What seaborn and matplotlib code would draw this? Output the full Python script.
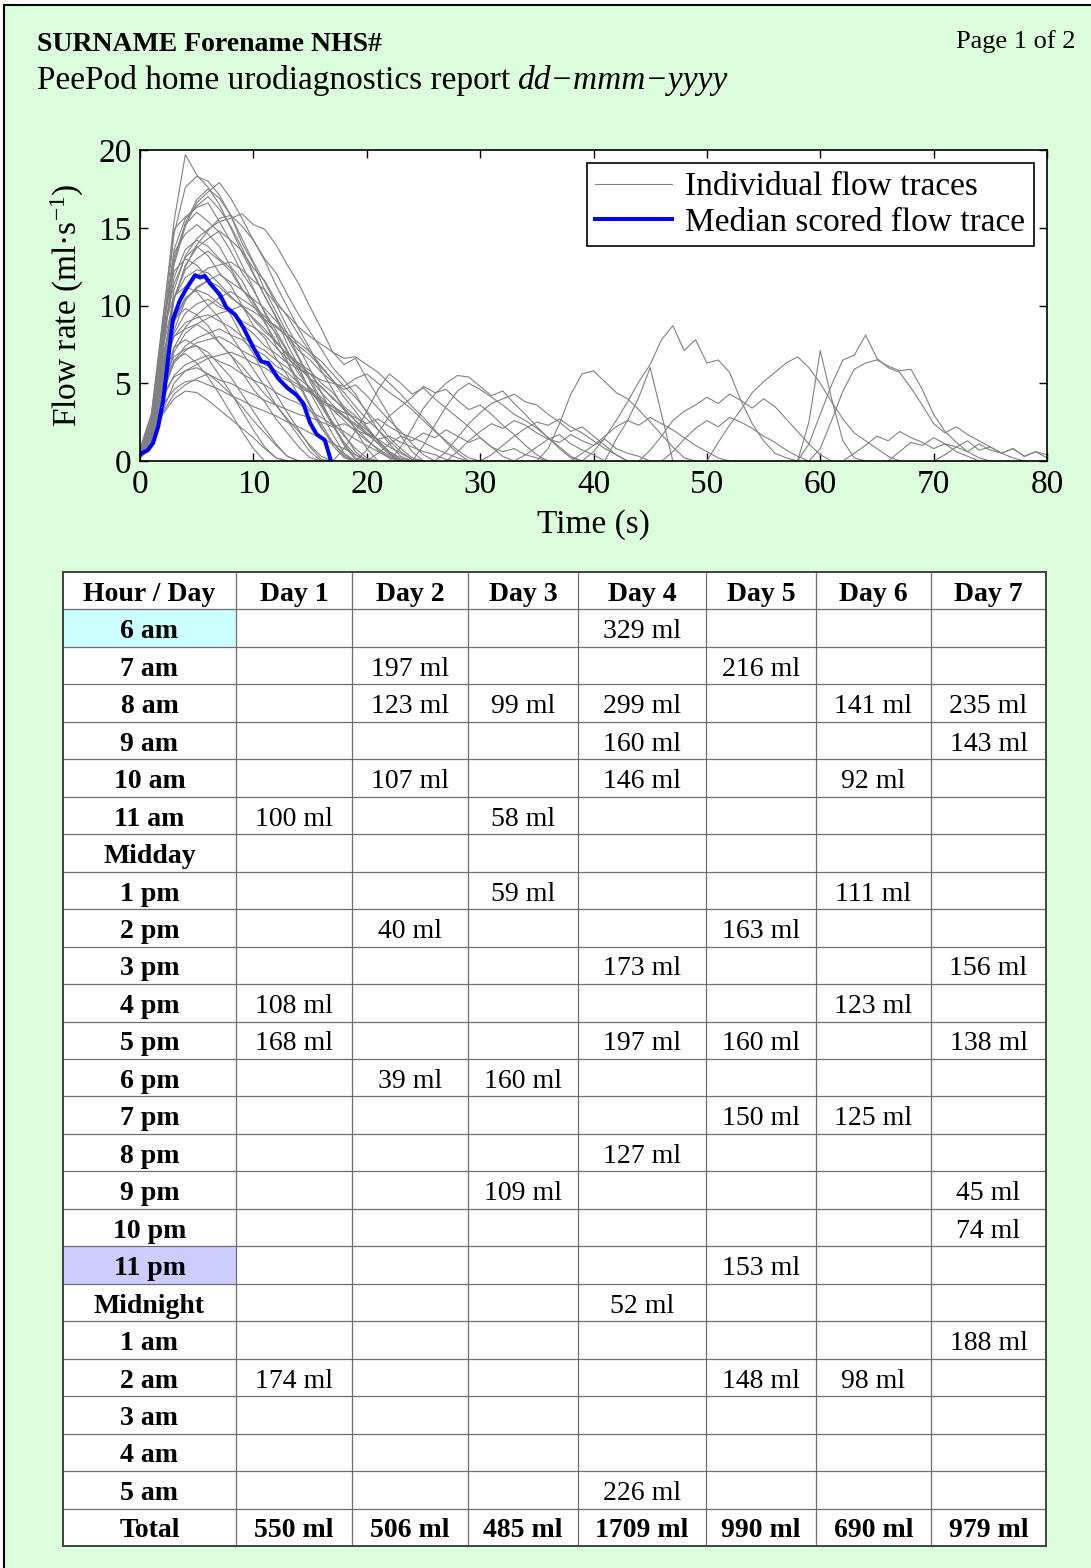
# PeePod report page - flow traces plus voiding diary table
import numpy as np
import pandas as pd
import matplotlib
matplotlib.use('Agg')
import matplotlib.pyplot as plt
import seaborn as sns
from matplotlib.colors import ListedColormap
from matplotlib.lines import Line2D
from matplotlib.patches import Rectangle

# ---------------------------------------------------------------- data
# individual flow traces (ml/s), one sample per second, starting at t = 0 s
tall_traces = [
    [0.6, 2.4, 8.9, 15.4, 19.7, 18.4, 17.6, 16.5, 15.0, 13.4, 12.0, 10.6, 9.3, 7.9, 6.6, 5.1, 3.7, 2.4, 1.1, 0.2, 0],
    [0.4, 2.0, 8.2, 14.6, 17.6, 18.3, 18.0, 17.1, 15.8, 14.0, 12.7, 11.0, 9.6, 8.2, 6.7, 5.3, 3.9, 2.3, 1.0, 0.1, 0],
    [0.3, 1.5, 6.8, 12.6, 15.1, 16.6, 17.3, 17.9, 16.9, 15.6, 14.2, 12.9, 11.3, 9.9, 8.5, 7.2, 5.8, 4.6, 3.3, 2.0, 0.8, 0],
    [0.5, 2.2, 7.8, 13.6, 15.6, 16.4, 17.0, 16.2, 15.1, 13.7, 12.1, 10.6, 9.2, 7.5, 6.1, 4.4, 3.1, 1.7, 0.5, 0],
    [0.3, 1.2, 5.6, 11.0, 13.2, 14.3, 14.9, 15.4, 15.6, 15.9, 15.2, 14.9, 13.9, 12.6, 11.4, 9.9, 8.5, 7.0, 6.2, 6.6, 5.3, 4.1, 2.9, 1.6, 0.6, 0],
    [0.8, 3.0, 9.1, 14.9, 15.7, 16.3, 16.6, 15.4, 14.1, 12.6, 11.1, 9.5, 8.1, 6.4, 5.1, 3.6, 2.2, 1.0, 0.2, 0],
    [0.2, 1.0, 5.0, 10.4, 12.5, 13.9, 14.8, 15.6, 15.8, 15.1, 14.2, 13.0, 12.1, 10.7, 9.4, 8.3, 7.2, 6.0, 5.2, 4.3, 3.1, 2.0, 1.1, 0.3, 0],
    [0.5, 2.4, 8.1, 13.4, 14.6, 15.2, 14.6, 13.8, 12.5, 11.6, 10.2, 9.0, 7.4, 6.3, 4.9, 3.5, 2.4, 1.2, 0.3, 0],
    [0.4, 1.8, 7.2, 12.8, 15.3, 16.8, 17.5, 16.9, 15.8, 14.3, 12.8, 11.5, 10.1, 8.6, 7.3, 5.9, 4.4, 3.0, 1.7, 0.6, 0],
    [0.6, 2.6, 8.6, 13.1, 15.2, 16.0, 15.4, 14.7, 13.5, 12.1, 11.0, 9.6, 8.4, 7.1, 5.8, 4.6, 3.5, 2.3, 1.2, 0.4, 0],
]
mid_traces = [
    [0.4, 2.1, 7.5, 11.8, 13.6, 14.2, 13.8, 13.0, 12.4, 11.1, 10.0, 8.9, 7.7, 6.8, 5.6, 4.7, 3.6, 2.5, 1.6, 0.8, 0.2, 0],
    [0.3, 1.6, 6.4, 10.5, 12.3, 13.0, 13.5, 12.9, 12.2, 11.0, 10.3, 9.1, 8.2, 7.0, 6.1, 5.3, 4.4, 3.6, 2.9, 2.1, 1.4, 0.7, 0.2, 0],
    [0.6, 2.8, 8.9, 12.2, 13.0, 12.6, 11.8, 10.5, 9.4, 8.0, 6.9, 5.5, 4.3, 3.1, 2.0, 0.9, 0.1, 0],
    [0.4, 2.0, 7.2, 10.5, 11.8, 12.3, 12.1, 11.4, 10.6, 9.9, 9.2, 8.5, 7.6, 6.9, 6.3, 5.8, 5.0, 4.4, 3.5, 2.9, 2.1, 1.3, 0.5, 0],
    [0.2, 1.1, 4.8, 8.4, 10.3, 11.2, 11.6, 12.0, 11.5, 11.0, 10.4, 9.8, 9.0, 8.2, 7.6, 7.0, 6.4, 5.6, 4.8, 4.1, 3.2, 2.4, 1.5, 0.8, 0.2, 0],
    [0.7, 3.0, 8.4, 10.6, 11.2, 10.9, 10.0, 9.2, 8.1, 7.0, 5.9, 4.8, 3.6, 2.6, 1.6, 0.6, 0],
    [0.3, 1.4, 5.6, 8.2, 9.5, 10.1, 10.4, 9.9, 9.6, 9.0, 8.6, 8.1, 7.3, 6.6, 6.0, 5.3, 4.8, 4.0, 3.4, 2.6, 2.0, 1.3, 0.6, 0.1, 0],
    [0.2, 1.0, 4.3, 7.0, 8.2, 8.8, 9.2, 9.5, 9.7, 10.0, 9.6, 9.1, 8.7, 8.0, 7.4, 6.8, 6.0, 5.2, 4.4, 3.5, 2.7, 2.0, 1.3, 0.6, 0.1, 0],
    [0.3, 1.3, 5.5, 9.3, 11.0, 11.9, 12.4, 12.6, 12.8, 12.3, 11.6, 11.0, 10.1, 9.4, 8.6, 8.0, 7.5, 7.0, 6.6, 6.7, 6.2, 5.7, 5.0, 4.3, 3.5, 2.8, 2.0, 1.2, 0.5, 0],
    [0.4, 1.7, 6.0, 9.1, 10.5, 11.0, 10.7, 10.1, 9.6, 8.8, 8.2, 7.4, 6.9, 6.3, 5.9, 5.6, 5.2, 5.0, 4.8, 5.3, 5.6, 5.0, 4.4, 3.9, 3.3, 2.6, 1.9, 1.3, 0.7, 0.2, 0],
    [0.3, 1.4, 6.1, 10.4, 12.6, 13.7, 14.3, 14.8, 14.2, 13.5, 12.4, 11.6, 10.3, 9.3, 8.1, 7.0, 6.1, 5.2, 4.1, 3.2, 2.2, 1.3, 0.5, 0],
    [0.5, 2.3, 7.9, 11.4, 13.1, 13.8, 13.2, 12.1, 11.3, 10.0, 8.7, 7.9, 6.6, 5.5, 4.2, 3.3, 2.1, 1.2, 0.4, 0],
    [0.3, 1.6, 5.8, 8.9, 10.4, 11.1, 11.6, 11.2, 10.5, 10.0, 9.1, 8.3, 7.7, 6.8, 6.2, 5.6, 4.7, 4.1, 3.3, 2.6, 1.8, 1.1, 0.4, 0],
    [0.2, 1.0, 4.1, 7.3, 8.6, 9.4, 10.0, 10.5, 10.9, 10.4, 9.9, 9.3, 8.6, 8.0, 7.1, 6.5, 5.7, 5.1, 4.6, 4.9, 4.2, 3.4, 2.6, 1.9, 1.1, 0.4, 0],
]
low_traces = [
    [0.4, 1.8, 5.9, 8.0, 8.9, 9.2, 9.4, 9.0, 8.6, 8.0, 7.5, 7.1, 6.5, 6.0, 5.3, 4.7, 4.1, 3.3, 2.6, 1.9, 1.3, 0.8, 0.3, 0],
    [0.5, 2.2, 6.3, 8.0, 8.5, 8.8, 8.3, 7.6, 6.8, 6.1, 5.2, 4.3, 3.6, 2.7, 1.9, 1.0, 0.3, 0],
    [0.2, 1.2, 4.4, 6.3, 7.1, 7.6, 7.8, 8.0, 7.6, 7.1, 6.7, 6.2, 5.8, 5.3, 4.9, 4.4, 3.8, 3.3, 2.9, 2.4, 1.8, 1.4, 0.9, 0.5, 0.1, 0],
    [0.6, 2.4, 5.5, 6.7, 7.2, 7.4, 7.0, 6.2, 5.4, 4.3, 3.2, 2.1, 1.1, 0.3, 0],
    [0.3, 1.3, 4.0, 5.5, 6.2, 6.5, 6.8, 6.4, 6.1, 5.6, 5.2, 4.9, 4.4, 4.0, 3.7, 3.2, 2.8, 2.3, 1.9, 1.4, 1.0, 0.6, 0.2, 0],
    [0.5, 1.9, 4.3, 5.4, 5.8, 6.0, 5.6, 5.0, 4.3, 3.5, 2.6, 1.8, 1.0, 0.3, 0],
    [0.4, 1.5, 3.6, 4.6, 5.1, 5.2, 4.9, 4.6, 4.2, 3.9, 3.5, 3.2, 2.9, 2.5, 2.2, 1.8, 1.5, 1.1, 0.8, 0.4, 0.1, 0],
    [0.3, 1.2, 3.0, 4.0, 4.5, 4.4, 3.9, 3.3, 2.7, 2.1, 1.5, 0.8, 0.2, 0],
    [0.5, 1.8, 4.6, 6.5, 6.9, 6.3, 5.4, 4.3, 3.1, 1.9, 0.8, 0],
    [0.4, 2.0, 5.2, 7.3, 7.8, 7.4, 6.6, 5.5, 4.4, 3.2, 2.0, 0.9, 0.2, 0],
    [0.5, 2.2, 6.9, 9.1, 9.8, 9.4, 8.7, 7.6, 6.8, 5.7, 4.6, 3.8, 2.7, 1.8, 0.9, 0.2, 0],
    [0.3, 1.2, 4.3, 6.4, 7.4, 7.9, 8.2, 8.5, 8.1, 7.8, 7.2, 6.8, 6.1, 5.7, 5.0, 4.5, 3.9, 3.5, 2.8, 2.3, 1.7, 1.2, 0.6, 0.2, 0],
    [0.2, 0.9, 3.2, 5.0, 5.8, 6.2, 6.6, 6.8, 7.0, 6.7, 6.3, 6.0, 5.5, 5.2, 4.7, 4.4, 3.9, 3.5, 3.1, 2.8, 2.4, 2.7, 2.2, 1.8, 1.5, 1.2, 0.8, 0.5, 0.2, 0],
    [0.3, 1.1, 3.1, 4.3, 4.9, 5.3, 5.6, 5.2, 5.0, 4.6, 4.3, 3.9, 3.6, 3.3, 3.0, 2.8, 2.5, 2.2, 2.4, 2.0, 1.7, 1.4, 1.6, 1.2, 0.9, 0.6, 0.4, 0.1, 0],
]
# later voids (start time in s, then one sample per second)
late_starts = [17, 19, 22, 24, 26, 30, 35, 41, 39, 44, 50, 58, 58, 59, 66, 70,
               20, 27, 33, 38, 46, 62]
late_traces = [
    [0, 0.8, 1.9, 3.2, 4.6, 5.6, 5.0, 4.3, 4.7, 4.0, 3.4, 2.8, 2.2, 1.5, 0.9, 0.3, 0],
    [0, 0.7, 1.8, 2.9, 3.5, 4.1, 4.8, 4.4, 4.6, 3.9, 3.3, 3.6, 3.0, 2.3, 1.7, 1.0, 0.4, 0],
    [0, 0.9, 2.1, 3.4, 4.3, 5.0, 5.5, 5.4, 4.8, 4.2, 4.5, 3.7, 3.0, 2.2, 1.5, 0.8, 0.2, 0],
    [0, 1.0, 2.3, 3.5, 4.5, 5.0, 4.6, 4.1, 3.6, 3.0, 2.6, 2.1, 1.5, 0.9, 0.3, 0],
    [0, 0.6, 1.5, 2.4, 3.1, 3.7, 4.0, 4.3, 3.8, 3.6, 3.0, 2.5, 1.9, 2.2, 1.6, 1.0, 0.4, 0],
    [0, 0.4, 1.0, 1.6, 2.1, 2.5, 2.3, 2.7, 2.2, 1.8, 1.3, 0.8, 0.4, 0],
    [0, 0.8, 2.4, 4.3, 5.6, 5.8, 5.1, 4.4, 4.0, 3.3, 2.5, 1.7, 0.9, 0.2, 0],
    [0, 1.4, 2.6, 4.1, 6.0, 3.0, 0],
    [0, 0.6, 1.5, 2.6, 3.8, 5.1, 6.2, 7.8, 8.7, 7.1, 7.8, 6.3, 6.5, 5.7, 3.9, 2.4, 1.3, 0.5, 0.2, 0],
    [0, 0.7, 1.6, 2.6, 3.2, 3.6, 4.1, 3.7, 4.3, 3.9, 3.4, 4.0, 3.5, 2.7, 1.9, 1.1, 0.4, 0],
    [0, 1.2, 2.3, 3.3, 4.4, 5.1, 5.7, 6.3, 6.7, 6.0, 5.0, 3.8, 2.7, 1.8, 1.3, 0.8, 0.3, 0],
    [0, 2.5, 7.1, 4.0, 1.3, 0.2, 0],
    [0, 1.1, 3.0, 4.9, 6.5, 6.8, 8.1, 6.6, 6.0, 5.7, 4.7, 3.6, 2.4, 1.8, 2.2, 1.7, 1.3, 0.9, 0.5, 0.2, 0],
    [0, 0.8, 2.6, 4.5, 5.9, 6.3, 6.5, 6.1, 5.8, 5.9, 4.6, 3.0, 1.9, 1.2, 0.6, 0.2, 0],
    [0, 0.6, 1.2, 1.0, 1.5, 1.1, 0.9, 1.3, 0.7, 0.9, 0.5, 0.8, 0.3, 0.6, 0.2, 0.5],
    [0, 0.4, 0.9, 0.6, 1.1, 0.7, 0.5, 0.8, 0.3, 0.6, 0.4],
    [0, 0.5, 1.1, 1.6, 1.3, 1.8, 1.5, 2.0, 1.6, 1.2, 1.5, 0.9, 0.6, 0.8, 0.4, 0.2, 0],
    [0, 0.6, 1.3, 1.9, 2.4, 2.1, 2.6, 2.3, 1.8, 1.4, 1.7, 1.1, 0.7, 0.4, 0],
    [0, 0.4, 0.9, 1.4, 1.2, 1.7, 1.3, 1.0, 1.4, 0.8, 0.5, 0.3, 0],
    [0, 0.5, 1.0, 1.6, 2.2, 2.6, 2.3, 2.8, 2.4, 2.0, 1.5, 1.0, 0.6, 0.2, 0],
    [0, 0.6, 1.4, 2.1, 2.6, 2.2, 2.8, 2.5, 2.1, 1.6, 1.2, 0.7, 0.3, 0],
    [0, 0.5, 1.0, 1.6, 1.3, 1.9, 1.5, 1.2, 0.8, 1.1, 0.6, 0.3, 0],
]
# median scored trace
median_time = [0.0, 0.15, 0.3, 0.7, 1.15, 1.6, 2.05, 2.5, 2.9, 3.5, 4.1, 4.85, 5.3, 5.7, 6.2, 7.05,
               7.6, 8.4, 9.1, 10.0, 10.7, 11.3, 12.2, 13.0, 13.8, 14.4, 15.0, 15.6, 16.3, 16.85]
median_flow = [0.4, 0.5, 0.55, 0.7, 1.15, 2.2, 3.9, 6.7, 9.1, 10.3, 11.1, 11.95, 11.8, 11.9, 11.4, 10.7,
               9.9, 9.4, 8.6, 7.3, 6.4, 6.3, 5.3, 4.7, 4.25, 3.7, 2.45, 1.7, 1.35, 0.0]

# voiding diary: volume (ml) per hour slot for each day
hours = ['6 am', '7 am', '8 am', '9 am', '10 am', '11 am', 'Midday', '1 pm', '2 pm', '3 pm',
         '4 pm', '5 pm', '6 pm', '7 pm', '8 pm', '9 pm', '10 pm', '11 pm', 'Midnight',
         '1 am', '2 am', '3 am', '4 am', '5 am']
days = ['Day 1', 'Day 2', 'Day 3', 'Day 4', 'Day 5', 'Day 6', 'Day 7']
day1 = {'11 am': 100, '4 pm': 108, '5 pm': 168, '2 am': 174}
day2 = {'7 am': 197, '8 am': 123, '10 am': 107, '2 pm': 40, '6 pm': 39}
day3 = {'8 am': 99, '11 am': 58, '1 pm': 59, '6 pm': 160, '9 pm': 109}
day4 = {'6 am': 329, '8 am': 299, '9 am': 160, '10 am': 146, '3 pm': 173, '5 pm': 197,
        '8 pm': 127, 'Midnight': 52, '5 am': 226}
day5 = {'7 am': 216, '2 pm': 163, '5 pm': 160, '7 pm': 150, '11 pm': 153, '2 am': 148}
day6 = {'8 am': 141, '10 am': 92, '1 pm': 111, '4 pm': 123, '7 pm': 125, '2 am': 98}
day7 = {'8 am': 235, '9 am': 143, '3 pm': 156, '5 pm': 138, '9 pm': 45, '10 pm': 74, '1 am': 188}
wake_hour = '6 am'
sleep_hour = '11 pm'

# ---------------------------------------------------------------- style
W, H = 1091, 1568
plt.rcParams['font.family'] = ['Liberation Serif', 'DejaVu Serif']
plt.rcParams['mathtext.fontset'] = 'custom'
plt.rcParams['mathtext.rm'] = 'Liberation Serif'
plt.rcParams['mathtext.it'] = 'Liberation Serif:italic'
green = '#dcfddc'

fig = plt.figure(figsize=(W / 100, H / 100), dpi=100, facecolor='white')
fig.add_artist(Rectangle((4 / W, -0.05), 1.2, (H - 5) / H + 0.05, transform=fig.transFigure,
                         facecolor=green, edgecolor='black', linewidth=1.5, zorder=-1))

fig.text(37 / W, 1 - 51 / H, 'SURNAME Forename NHS#', fontsize=20, weight='bold')
fig.text(1076 / W, 1 - 48 / H, 'Page 1 of 2', fontsize=19, ha='right')
sub = fig.text(37 / W, 1 - 89 / H, 'PeePod home urodiagnostics report', fontsize=24)
bb = sub.get_window_extent(renderer=fig.canvas.get_renderer())
fig.text((bb.x1 + 8) / W, 1 - 89 / H, 'dd\u2212mmm\u2212yyyy', fontsize=24, style='italic')

# ---------------------------------------------------------------- flow plot
rows = []
for i, vals in enumerate(tall_traces + mid_traces + low_traces):
    for k, v in enumerate(vals):
        rows.append((i, k, v))
for j, (t0, vals) in enumerate(zip(late_starts, late_traces)):
    for k, v in enumerate(vals):
        rows.append((100 + j, t0 + k, v))
df_traces = pd.DataFrame(rows, columns=['trace', 'time', 'flow'])

ax = fig.add_axes([140 / W, 1 - 461 / H, 907 / W, 311 / H])
sns.lineplot(data=df_traces, x='time', y='flow', units='trace', estimator=None,
             color='#808080', linewidth=0.8, ax=ax)
sns.lineplot(x=median_time, y=median_flow, estimator=None, sort=False,
             color='blue', linewidth=2.9, ax=ax)
ax.set_xlim(0, 80)
ax.set_ylim(0, 20)
ax.set_xticks(range(0, 81, 10))
ax.set_yticks(range(0, 21, 5))
ax.tick_params(direction='in', length=6, width=1, top=True, right=True, labelsize=24, pad=6)
for s in ax.spines.values():
    s.set_linewidth(1.2)
ax.set_xlabel('Time (s)', fontsize=24)
ax.set_ylabel('Flow rate (ml\u00b7s$^{\\mathregular{\u22121}}$)', fontsize=24)
ax.xaxis.set_label_coords(0.5, -0.155)
ax.yaxis.set_label_coords(-0.059, 0.5)

handles = [Line2D([], [], color='#808080', linewidth=0.8),
           Line2D([], [], color='blue', linewidth=2.9)]
leg = ax.legend(handles, ['Individual flow traces', 'Median scored flow trace'],
                loc='upper right', fontsize=24, frameon=True, fancybox=False,
                edgecolor='black', framealpha=1, handlelength=2.3, handletextpad=0.4,
                labelspacing=0.15, borderpad=0.25, borderaxespad=0.4)
leg.get_frame().set_linewidth(1.2)

# ---------------------------------------------------------------- diary table
col_widths = [173, 116, 116, 110, 128, 110, 115, 115]
day_cols = [day1, day2, day3, day4, day5, day6, day7]
n_rows = len(hours) + 2
x_edges = np.concatenate([[0], np.cumsum(col_widths)])
x_mid = (x_edges[:-1] + x_edges[1:]) / 2

codes = np.zeros((n_rows, len(col_widths)))
codes[1 + hours.index(wake_hour), 0] = 1
codes[1 + hours.index(sleep_hour), 0] = 2

tax = fig.add_axes([63 / W, 1 - 1546 / H, 983 / W, 974 / H])
tax.pcolormesh(x_edges, np.arange(n_rows + 1), codes,
               cmap=ListedColormap(['white', '#ccffff', '#ccccff']), vmin=0, vmax=2)
tax.hlines(np.arange(1, n_rows), 0, x_edges[-1], color='#6e6e6e', linewidth=0.9)
tax.vlines(x_edges[1:-1], 0, n_rows, color='#6e6e6e', linewidth=0.9)
tax.set_xlim(0, x_edges[-1])
tax.set_ylim(n_rows, 0)
tax.set_xticks([])
tax.set_yticks([])
for s in tax.spines.values():
    s.set_linewidth(1.4)
    s.set_color('#404040')

base = 0.77
tax.text(x_mid[0], base, 'Hour / Day', ha='center', va='baseline', fontsize=20, weight='bold')
for c, d in enumerate(days):
    tax.text(x_mid[c + 1], base, d, ha='center', va='baseline', fontsize=20, weight='bold')
for r, h in enumerate(hours):
    tax.text(x_mid[0], r + 1 + base, h, ha='center', va='baseline', fontsize=20, weight='bold')
    for c, vols in enumerate(day_cols):
        if h in vols:
            tax.text(x_mid[c + 1], r + 1 + base, f'{vols[h]} ml', ha='center', va='baseline',
                     fontsize=20)
tax.text(x_mid[0], n_rows - 1 + base, 'Total', ha='center', va='baseline', fontsize=20, weight='bold')
for c, vols in enumerate(day_cols):
    tax.text(x_mid[c + 1], n_rows - 1 + base, f'{sum(vols.values())} ml', ha='center',
             va='baseline', fontsize=20, weight='bold')

plt.savefig('out.png', dpi=100, facecolor='white')
